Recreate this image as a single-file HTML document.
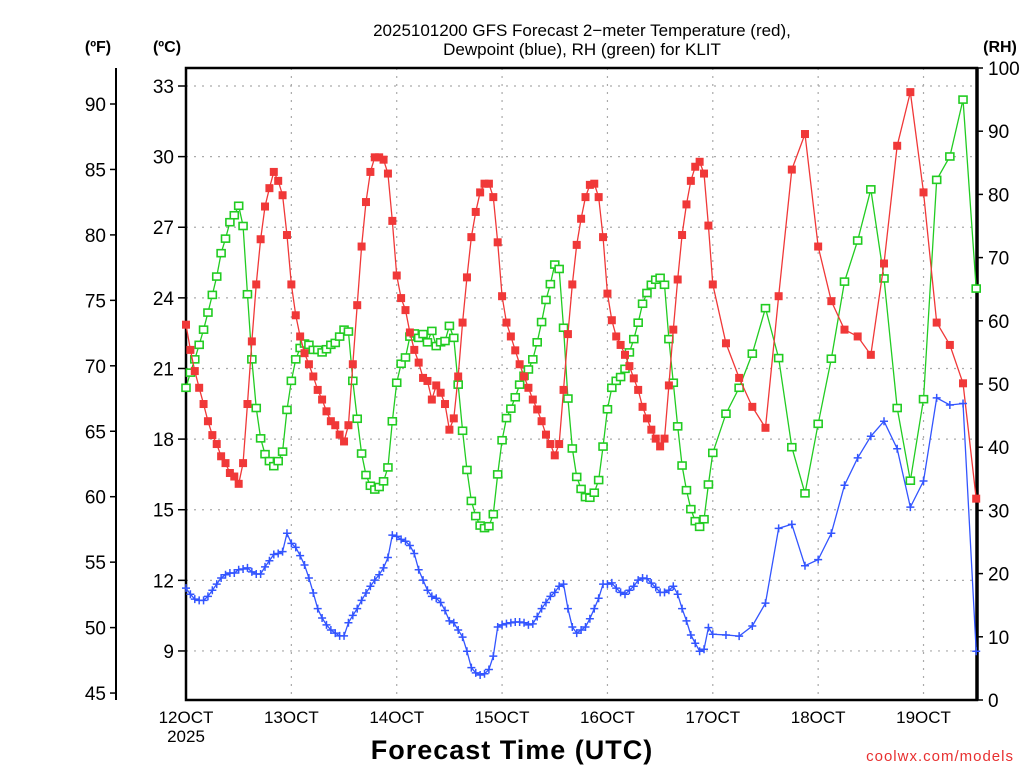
<!DOCTYPE html>
<html><head><meta charset="utf-8"><style>
body{margin:0;background:#fff;width:1024px;height:768px;overflow:hidden}
svg text{font-family:"Liberation Sans",sans-serif;fill:#000}
</style></head><body>
<svg id="chart" width="1024" height="768" viewBox="0 0 1024 768" xmlns="http://www.w3.org/2000/svg">
<g id="grid"></g>
<g id="axes"></g>
<g id="series"></g>
<text x="582" y="36" font-size="17" text-anchor="middle">2025101200 GFS Forecast 2−meter Temperature (red),</text>
<text x="582" y="55" font-size="17" text-anchor="middle">Dewpoint (blue), RH (green) for KLIT</text>
<text x="98" y="52" font-size="16" font-weight="bold" text-anchor="middle">(ºF)</text>
<text x="167" y="52" font-size="16" font-weight="bold" text-anchor="middle">(ºC)</text>
<text x="1000" y="52" font-size="16" font-weight="bold" text-anchor="middle">(RH)</text>
<text x="512" y="759" font-size="27" font-weight="bold" text-anchor="middle" letter-spacing="1">Forecast Time (UTC)</text>
<text x="1014" y="761" font-size="15" text-anchor="end" style="fill:#e83030" letter-spacing="1">coolwx.com/models</text>
</svg>
<script>
const tempC = [22.86,21.79,20.89,20.18,19.49,18.76,18.17,17.79,17.27,16.98,16.56,16.41,16.10,16.98,19.49,22.15,24.57,26.49,27.88,28.66,29.35,28.97,28.36,26.67,24.57,23.26,22.36,21.65,21.18,20.66,20.09,19.68,19.18,18.76,18.59,18.19,17.90,18.59,21.18,23.69,26.18,28.07,29.35,29.97,29.97,29.87,29.28,27.27,24.95,23.99,23.48,22.53,21.79,21.25,20.60,20.47,19.68,20.28,19.97,19.49,18.40,18.88,20.66,22.95,24.87,26.58,27.65,28.48,28.85,28.85,28.28,26.36,24.07,22.95,22.36,21.77,21.18,20.66,20.18,19.68,19.26,18.76,18.19,17.79,17.31,17.79,20.09,22.46,24.57,26.25,27.36,28.28,28.80,28.85,28.28,26.58,24.18,23.05,22.36,22.00,21.58,21.10,20.58,20.09,19.37,18.88,18.40,18.02,17.69,18.02,20.28,22.65,24.78,26.67,27.97,28.97,29.57,29.78,29.28,27.07,24.57,22.07,20.60,19.37,18.48,24.07,29.45,30.96,26.18,23.86,22.65,22.36,21.58,25.46,30.46,32.74,28.48,22.95,22.00,20.37,15.47];
const dewC = [11.67,11.41,11.20,11.15,11.15,11.32,11.58,11.84,12.10,12.24,12.31,12.31,12.45,12.48,12.53,12.36,12.27,12.27,12.57,12.83,13.10,13.14,13.22,14.00,13.57,13.40,13.05,12.65,12.10,11.46,10.80,10.40,10.11,9.89,9.76,9.64,9.64,10.20,10.51,10.80,11.15,11.46,11.75,12.01,12.24,12.53,12.97,13.92,13.87,13.74,13.66,13.48,13.14,12.45,12.01,11.58,11.32,11.24,11.06,10.72,10.28,10.20,9.89,9.59,8.99,8.29,8.07,7.98,8.03,8.21,8.78,10.02,10.11,10.16,10.20,10.23,10.23,10.20,10.11,10.15,10.46,10.80,11.06,11.32,11.49,11.75,11.84,10.80,10.02,9.76,9.89,10.02,10.37,10.80,11.24,11.84,11.84,11.89,11.67,11.49,11.41,11.58,11.75,12.01,12.10,12.07,11.88,11.70,11.49,11.49,11.58,11.75,11.41,10.80,10.28,9.68,9.33,8.99,9.07,9.99,9.71,9.68,9.63,10.06,11.03,14.21,14.38,12.62,12.88,14.00,16.04,17.20,18.12,18.76,17.59,15.11,16.22,19.75,19.45,19.51,8.99];
const rhPct = [49.4,51.8,53.9,56.2,58.6,61.3,64.1,67.0,70.7,73.0,75.6,76.7,78.2,75.0,64.2,53.9,46.2,41.4,38.9,37.8,37.0,37.8,39.3,45.9,50.5,53.9,55.7,56.4,56.2,55.4,55.4,55.0,55.5,56.2,56.5,57.5,58.6,58.3,50.5,44.5,39.0,35.6,33.9,33.3,33.7,34.6,36.8,44.1,50.2,53.2,54.2,57.5,58.0,57.3,57.9,56.6,58.4,56.0,56.6,56.8,59.2,57.3,49.9,42.6,36.4,31.5,29.1,27.6,27.2,27.5,29.4,35.7,41.1,44.6,46.1,47.9,49.9,51.3,52.3,53.9,56.6,59.8,63.3,65.8,68.9,68.2,58.9,47.7,39.8,35.3,33.4,32.1,32.0,32.8,34.8,40.1,46.0,49.4,50.5,51.1,52.4,55.0,57.1,59.7,62.7,64.4,65.7,66.5,66.8,65.7,57.1,50.2,43.3,37.1,33.2,30.2,28.3,27.4,28.6,34.1,39.1,45.3,49.4,54.8,62.0,54.1,40.0,32.7,43.7,54.0,66.2,72.7,80.8,66.7,46.2,34.7,47.6,82.3,86.0,95.0,65.1];
const celsiusTicks = [33,30,27,24,21,18,15,12,9];
const fahrenheitTicks = [90,85,80,75,70,65,60,55,50,45];
const rhTicks = [100,90,80,70,60,50,40,30,20,10,0];
const dayLabels = ["12OCT","13OCT","14OCT","15OCT","16OCT","17OCT","18OCT","19OCT"];

const X0=186, X1=977, Y0=68, Y1=700, PX_PER_HOUR=4.39;
function hourAt(i){ return i<=120 ? i : 120+(i-120)*3; }
function xScale(h){ return X0+h*PX_PER_HOUR; }
function yC(c){ return 86+(33-c)*23.54; }
function yF(f){ return 104+(90-f)*13.09; }
function yRH(r){ return Y1-r*6.32; }

const NS="http://www.w3.org/2000/svg";
function mk(parent,tag,attrs){ const e=document.createElementNS(NS,tag); for(const k in attrs) e.setAttribute(k,attrs[k]); parent.appendChild(e); return e; }
const grid=document.getElementById('grid'), axes=document.getElementById('axes'), ser=document.getElementById('series');

celsiusTicks.forEach(c=>{
  const y=yC(c);
  const g=mk(grid,'line',{x1:X0,x2:X1,y1:y,y2:y,stroke:'#aaa','stroke-width':1.2,'stroke-dasharray':'2 6'});
  
  
  const t=mk(axes,'line',{x1:X0-8,x2:X0,y1:y,y2:y,stroke:'#000','stroke-width':1.5});
  
  
  const l=mk(axes,'text',{x:X0-12,y:y+7,'font-size':19,'text-anchor':'end'}); l.textContent=c;
  
  
});
dayLabels.forEach((d,i)=>{
  const x=xScale(i*24);
  if(i>0){ const g=mk(grid,'line',{x1:x,x2:x,y1:Y0,y2:Y1,stroke:'#aaa','stroke-width':1.2,'stroke-dasharray':'2 6'});
    
     }
  const l=mk(axes,'text',{x:x,y:723,'font-size':17,'text-anchor':'middle'}); l.textContent=d;
  
  
});
const yr=mk(axes,'text',{x:186,y:742,'font-size':17,'text-anchor':'middle'}); yr.textContent='2025';


fahrenheitTicks.forEach(f=>{
  const y=yF(f);
  const t=mk(axes,'line',{x1:110,x2:116,y1:y,y2:y,stroke:'#000','stroke-width':1.5});
  
  
  const l=mk(axes,'text',{x:106,y:y+7,'font-size':19,'text-anchor':'end'}); l.textContent=f;
  
  
});
rhTicks.forEach(r=>{
  const y=yRH(r);
  const t=mk(axes,'line',{x1:X1,x2:X1+6,y1:y,y2:y,stroke:'#000','stroke-width':1.5});
  
  
  const l=mk(axes,'text',{x:988,y:y+7,'font-size':19,'text-anchor':'start'}); l.textContent=r;
  
  
});
const fax=mk(axes,'line',{x1:116,x2:116,y1:68,y2:700,stroke:'#000','stroke-width':2});


const frame=mk(axes,'rect',{x:X0,y:Y0,width:X1-X0,height:Y1-Y0,fill:'none',stroke:'#000','stroke-width':2.5});


const rax=mk(axes,'line',{x1:X1,x2:X1,y1:Y0,y2:Y1,stroke:'#000','stroke-width':3.5});



function drawSeries(vals,ys,color,name,marker){
  const pts=vals.map((v,i)=>[xScale(hourAt(i)),ys(v)]);
  const pl=mk(ser,'polyline',{points:pts.map(p=>p.join(',')).join(' '),fill:'none',stroke:color,'stroke-width':1.3});
  
  
  pts.forEach(([x,y])=>{
    let m;
    if(marker==='filled') m=mk(ser,'rect',{x:x-4,y:y-4,width:8,height:8,fill:color});
    else if(marker==='open') m=mk(ser,'rect',{x:x-4,y:y-3.5,width:8,height:7,fill:'#fff',stroke:color,'stroke-width':1.6});
    else m=mk(ser,'path',{d:`M${x-4},${y}H${x+4}M${x},${y-4}V${y+4}`,stroke:color,'stroke-width':1.5});
    
    
  });
}
drawSeries(rhPct,yRH,'#22cc22','rh','open');
drawSeries(tempC,yC,'#f03838','temperature','filled');
drawSeries(dewC,yC,'#3355ff','dewpoint','plus');
</script>
</body></html>
